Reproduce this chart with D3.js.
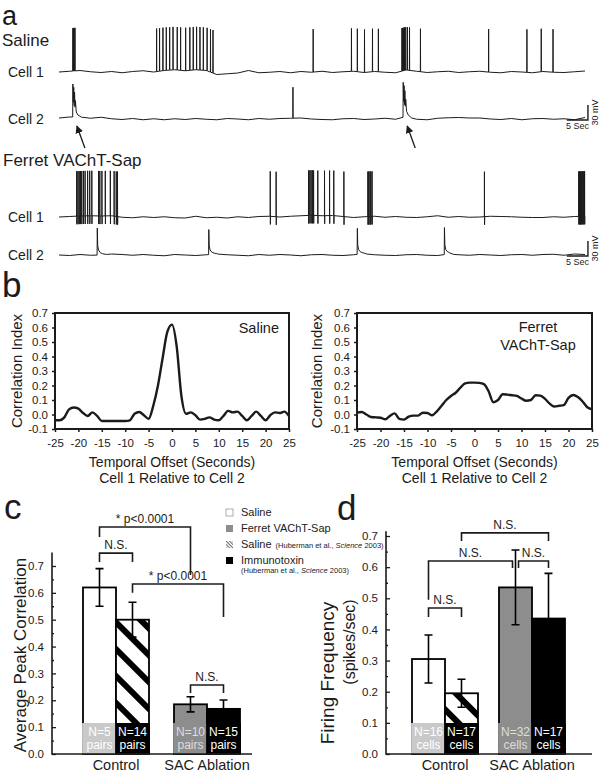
<!DOCTYPE html>
<html>
<head>
<meta charset="utf-8">
<script src="https://cdn.jsdelivr.net/npm/d3@7"></script>
<style>
  body { margin: 0; background: #fff; }
  svg { display: block; font-family: "Liberation Sans", Arial, Helvetica, sans-serif; }
</style>
</head>
<body>
<svg id="fig" width="600" height="776"></svg>
<script>
// ---------- panel a: paired recordings (time in s, voltage in mV above rest)
const traceStep = 2.5; // baseline samples every 2.5 s, 0..125 s

const salineCell1Base = [0, 1.5, 3, 0.5, -1, 1, -1.5, 1, 2.5, 0, 3, 4.5, 2.5, 4.5, 3, -5, -3.5, -2, 3, -1.5,
  -0.5, 1, -1.5, 1, -0.5, 1.5, -1, 0.5, 1.5, -1, 1, -0.5, -1.5, 4, 1.5, -1, 0.5, 1.5, -1, 0.5,
  1.5, -0.5, -1.5, 1, 0, -1.5, 1, -0.5, -1, 0.5, 2];
const salineCell1Spikes = [3.3, 3.45, 3.6, 3.8,
  23.2, 23.9, 24.7, 25.5, 26.3, 27.1, 28.1, 28.9, 30.1, 31.1, 31.9, 32.7, 33.5, 34.3, 35.2, 36.0, 36.6,
  60.4, 69.5, 70.9, 72.6, 74.5, 75.9,
  81.5, 81.7, 81.9, 82.1, 82.4, 82.8, 83.3, 85.9,
  102.1, 111.2, 114.6, 117.4];
const salineCell1Amp = 86;

const salineCell2Base = [2, 4, 4, 1.5, 3.5, 0.5, -1, 1, -1.5, 0.5, -1.5, 0.5, -1, 1, -0.5, -1.5, 1, 0, -1.5, 1,
  -0.5, 1, 1.5, 2, 0, -1, -1.5, 0.5, 1, -1, 0, 1.5, -0.5, 5, -0.5, -1.5, 1.5, 2.5, 3, 2,
  2, 0, -1, 1, -1.5, 0.5, 1, -0.5, 0.5, -1.5, 3];
const salineCell2Events = [3.3, 55.6, 81.8];
const salineCell2Amps = [66, 62, 70];
const salineCell2Kinds = ['burst', 'spike', 'burst'];

const ferretCell1Base = [0, 1, 2, 2.5, 2, 2.5, -0.5, -1.5, 0.5, -1, 0.5, -1.5, -2, 1.5, -1.5, -0.5, -2, 0.5, -1, 1,
  1.5, 0, 1.5, 2.5, 3.5, 2.5, 3, 1, -1, 0.5, 1.5, -0.5, 1, -0.5, -1, 0.5, 2.5, -0.5, 1, -0.5,
  0, 1.5, 1, 0.5, -0.5, -1, -1, 0.5, -0.5, 1, 1.5];
const ferretCell1Spikes = [4.2, 4.5, 4.8, 5.1, 5.4, 5.8, 6.2, 6.8, 7.3, 7.8,
  9.4, 9.7, 10.2, 11.0, 12.2, 13.1, 13.6, 13.9,
  50.2, 51.6,
  59.3, 59.6, 59.9, 60.2, 60.5, 61.5, 63.1, 64.3, 65.3, 67.7,
  73.4, 73.6, 73.9, 74.1, 74.4,
  101.1,
  123.5, 123.7, 123.9, 124.1, 124.3, 124.5, 124.7, 124.9];
const ferretCell1Amp = 90;

const ferretCell2Base = [0, -1, 1, -0.5, 0, 2, 1, -0.5, 1, -0.5, -1.5, 1, 0, -1, 0.5, 2, 0.5, -0.5, -1.5, 1,
  -0.5, 1, 0, -1.5, 0.5, 1, -0.5, -1, 0.5, 2.5, 0.5, -0.5, -1, 0.5, 1, -0.5, -1, 2, 0.5, -0.5,
  1, 0, -1, 0.5, 1, -0.5, 1, 1.5, -0.5, 2, 1];
const ferretCell2Events = [9.1, 35.6, 70.9, 91.6];
const ferretCell2Amps = [54, 50, 52, 54];

// ---------- panel b: cross-correlation vs temporal offset
const lagSeconds = [-25, -24, -23, -22, -21, -20, -19, -18, -17, -16, -15, -14, -13, -12, -11, -10, -9, -8, -7, -6,
  -5, -4, -3, -2, -1, 0, 1, 2, 3, 4, 5, 6, 7, 8, 9, 10, 11, 12, 13, 14,
  15, 16, 17, 18, 19, 20, 21, 22, 23, 24, 25];
const salineCorr = [-0.04, -0.04, -0.02, 0.035, 0.048, 0.04, 0.01, -0.01, 0.015, -0.01, -0.045, -0.045, -0.045, -0.045, -0.045, -0.045, -0.04, 0.005, 0.017, -0.005,
  -0.03, 0.06, 0.2, 0.39, 0.57, 0.62, 0.47, 0.13, 0.005, 0.015, -0.005, -0.035, -0.03, -0.02, -0.035, -0.04, -0.01, 0.025, 0.015, 0.02,
  -0.01, -0.04, -0.01, 0.02, -0.01, -0.04, -0.005, 0.015, 0.01, 0.02, -0.01];
const ferretCorr = [0.013, 0.017, 0.0, -0.017, -0.02, -0.022, -0.033, -0.01, 0.008, -0.03, -0.035, -0.015, -0.008, -0.008, 0.012, 0.01, -0.005, 0.022, 0.06, 0.1,
  0.128, 0.15, 0.185, 0.215, 0.22, 0.22, 0.218, 0.21, 0.16, 0.085, 0.1, 0.14, 0.137, 0.133, 0.128, 0.11, 0.095, 0.1, 0.133, 0.13,
  0.108, 0.075, 0.055, 0.06, 0.065, 0.115, 0.135, 0.12, 0.09, 0.05, 0.036];
const corrTicksY = [-0.1, 0, 0.1, 0.2, 0.3, 0.4, 0.5, 0.6, 0.7];
const corrTicksX = [-25, -20, -15, -10, -5, 0, 5, 10, 15, 20, 25];

// ---------- panels c, d: bar charts (bar order: Saline, Saline 2003, Ferret VAChT-Sap, Immunotoxin)
const groups = ['Control', 'SAC Ablation'];
const barGroup = [0, 0, 1, 1];
const peakCorrMean = [0.62, 0.50, 0.185, 0.168];
const peakCorrErr = [0.07, 0.065, 0.028, 0.033];
const peakCorrN = ['N=5', 'N=14', 'N=10', 'N=15'];
const firingMean = [0.305, 0.195, 0.535, 0.435];
const firingErr = [0.077, 0.045, 0.12, 0.145];
const firingN = ['N=16', 'N=17', 'N=32', 'N=17'];
const barTicks = [0, 0.1, 0.2, 0.3, 0.4, 0.5, 0.6, 0.7];
const barMinorTicks = [0.05, 0.15, 0.25, 0.35, 0.45, 0.55, 0.65];
const legendLabels = ['Saline', 'Ferret VAChT-Sap', 'Saline', 'Immunotoxin'];
const legendNotes = ['', '', '(Huberman et al., |Science| 2003)', '(Huberman et al., |Science| 2003)'];
const legendBar = [0, 2, 1, 3];

// significance brackets: bars joined, level of the bar, leg ends (data units)
const corrBrackets = [
  { from: 0, to: 2, level: 0.845, legs: [0.808, 0.666], label: '* p<0.0001' },
  { from: 0, to: 1, level: 0.748, legs: [0.715, 0.715], label: 'N.S.' },
  { from: 1, to: 3, level: 0.633, legs: [0.6, 0.51], label: '* p<0.0001' },
  { from: 2, to: 3, level: 0.257, legs: [0.227, 0.227], label: 'N.S.' }
];
const rateBrackets = [
  { from: 1, to: 3, level: 0.71, legs: [0.684, 0.684], label: 'N.S.' },
  { from: 0, to: 2, level: 0.62, legs: [0.495, 0.597], label: 'N.S.', trim: [0, -3] },
  { from: 2, to: 3, level: 0.62, legs: [0.597, 0.597], label: 'N.S.', trim: [3, 0] },
  { from: 0, to: 1, level: 0.469, legs: [0.44, 0.44], label: 'N.S.' }
];

const ink = '#1b1b1b';
const gray = '#8d8d8d';
const svg = d3.select('#fig');

// patterns and arrow head
const defs = svg.append('defs');
defs.append('pattern').attr('id', 'hatchBig')
    .attr('patternUnits', 'userSpaceOnUse')
    .attr('width', 19).attr('height', 19)
    .attr('patternTransform', 'rotate(-45)')
    .call(p => {
        p.append('rect').attr('width', 19).attr('height', 19).attr('fill', '#fff');
        p.append('rect').attr('width', 6).attr('height', 19).attr('fill', '#000');
    });
defs.append('pattern').attr('id', 'hatchSmall')
    .attr('patternUnits', 'userSpaceOnUse')
    .attr('width', 2.4).attr('height', 2.4)
    .attr('patternTransform', 'rotate(-45)')
    .call(p => {
        p.append('rect').attr('width', 2.4).attr('height', 2.4).attr('fill', '#fff');
        p.append('rect').attr('width', 1).attr('height', 2.4).attr('fill', '#666');
    });
defs.append('marker').attr('id', 'arrowHead')
    .attr('viewBox', '0 0 10 10').attr('refX', 9).attr('refY', 5)
    .attr('markerWidth', 6).attr('markerHeight', 6).attr('orient', 'auto')
    .append('path').attr('d', 'M0,0 L10,5 L0,10 z').attr('fill', ink);

function label(x, y, txt, size, opts = {}) {
    return svg.append('text')
        .attr('x', x).attr('y', y)
        .attr('font-size', size)
        .attr('fill', opts.fill || ink)
        .attr('text-anchor', opts.anchor || 'start')
        .attr('transform', opts.rotate ? `rotate(-90,${x},${y})` : null)
        .text(txt);
}

// ================= panel a =================
const eventShapes = {
    spike: { dt: [-0.03, 0, 0.03], k: [0, 1, 0] },
    biphasic: { dt: [-0.02, 0, 0.03, 0.06], k: [0, 1, -0.18, 0] },
    burst: { dt: [-0.05, 0, 0.1, 0.2, 0.3, 0.4, 0.5, 0.6, 0.8, 1.2, 2],
             k: [0, 1, 0.45, 0.9, 0.35, 0.75, 0.3, 0.5, 0.15, 0.06, 0] },
    decay: { dt: [-0.05, 0, 0.1, 0.3, 0.7, 1.3, 2.2], k: [0, 1, 0.35, 0.18, 0.09, 0.04, 0] }
};

function buildTrace(baseVals, events) {
    const baseTimes = baseVals.map((d, i) => i * traceStep);
    const tEnd = baseTimes[baseTimes.length - 1];
    const baseAt = d3.scaleLinear().domain(baseTimes).range(baseVals).clamp(true);
    const parts = events.map(e => {
        const s = eventShapes[e.kind];
        return {
            lo: e.t + s.dt[0], hi: e.t + s.dt[s.dt.length - 1],
            f: d3.scaleLinear().domain(s.dt.map(d => d + e.t)).range(s.k.map(k => k * e.amp))
        };
    });
    let times = baseTimes.slice();
    events.forEach(e => eventShapes[e.kind].dt.forEach(d => times.push(e.t + d)));
    times = times.filter(t => t >= 0 && t <= tEnd).sort((a, b) => a - b);
    return times.map(t => [t, baseAt(t) + d3.sum(parts, p => (t >= p.lo && t <= p.hi) ? p.f(t) : 0)]);
}

const tx = d3.scaleLinear().domain([0, 125]).range([59, 585]);
const traces = [
    { name: 'Cell 1', y0: 72, base: salineCell1Base,
      events: salineCell1Spikes.map(t => ({ t, amp: salineCell1Amp, kind: 'spike' })) },
    { name: 'Cell 2', y0: 119, base: salineCell2Base,
      events: salineCell2Events.map((t, i) => ({ t, amp: salineCell2Amps[i], kind: salineCell2Kinds[i] })) },
    { name: 'Cell 1', y0: 217, base: ferretCell1Base,
      events: ferretCell1Spikes.map(t => ({ t, amp: ferretCell1Amp, kind: 'biphasic' })) },
    { name: 'Cell 2', y0: 255, base: ferretCell2Base,
      events: ferretCell2Events.map((t, i) => ({ t, amp: ferretCell2Amps[i], kind: 'decay' })) }
];

label(2, 24.5, 'a', 27);
label(2, 46, 'Saline', 17);
label(3, 166, 'Ferret VAChT-Sap', 17);

traces.forEach(tr => {
    tr.y = d3.scaleLinear().domain([0, 100]).range([tr.y0, tr.y0 - 50]);
    const line = d3.line().x(d => tx(d[0])).y(d => tr.y(d[1]));
    svg.append('path')
        .datum(buildTrace(tr.base, tr.events))
        .attr('d', line)
        .attr('fill', 'none')
        .attr('stroke', ink)
        .attr('stroke-width', 1)
        .attr('stroke-linejoin', 'round');
    label(8, tr.y0 + 5, tr.name, 14);
});

// scale bars (30 mV, 5 s) next to each Cell 2 trace
[traces[1], traces[3]].forEach(tr => {
    const xr = tx(125.7), xl = tx(120.7), yb = tr.y0 + 1;
    const yt = yb - (tr.y(0) - tr.y(30));
    svg.append('path')
        .attr('d', `M${xl},${yb}H${xr}V${yt}`)
        .attr('fill', 'none').attr('stroke', ink).attr('stroke-width', 1.4);
    label((xl + xr) / 2, yb + 9, '5 Sec', 9, { anchor: 'middle' });
    label(598, (yb + yt) / 2, '30 mV', 9, { anchor: 'middle', rotate: true });
});

// arrows under the coincident Cell 2 events
[salineCell2Events[0], salineCell2Events[2]].forEach(t => {
    const x = tx(t);
    svg.append('line')
        .attr('x1', x + 12).attr('y1', 148)
        .attr('x2', x + 4).attr('y2', 126)
        .attr('stroke', ink).attr('stroke-width', 1.3)
        .attr('marker-end', 'url(#arrowHead)');
});

// ================= panel b =================
label(2, 297, 'b', 35);

function corrPanel(x0, x1, values, ylabX, tag) {
    const x = d3.scaleLinear().domain([-25, 25]).range([x0, x1]);
    const y = d3.scaleLinear().domain([-0.1, 0.7]).range([429, 313]);
    const g = svg.append('g');

    g.append('path')
        .datum(lagSeconds.map((t, i) => [t, values[i]]))
        .attr('d', d3.line().x(d => x(d[0])).y(d => y(d[1])).curve(d3.curveMonotoneX))
        .attr('fill', 'none').attr('stroke', ink).attr('stroke-width', 2.4);

    g.append('rect')
        .attr('x', x0).attr('y', y(0.7))
        .attr('width', x1 - x0).attr('height', y(-0.1) - y(0.7))
        .attr('fill', 'none').attr('stroke', ink).attr('stroke-width', 2);

    const yAxis = g.append('g')
        .attr('transform', `translate(${x0},0)`)
        .call(d3.axisLeft(y).tickValues(corrTicksY).tickFormat(d => d.toFixed(1)).tickSize(3).tickPadding(4));
    const xAxis = g.append('g')
        .attr('transform', `translate(0,${y(-0.1)})`)
        .call(d3.axisBottom(x).tickValues(corrTicksX).tickFormat(d => String(d)).tickSize(3).tickPadding(7));
    [yAxis, xAxis].forEach(a => {
        a.select('.domain').remove();
        a.selectAll('line').attr('stroke', ink).attr('stroke-width', 1.5);
        a.selectAll('text').attr('font-size', 11.5).attr('fill', ink)
            .attr('font-family', '"Liberation Sans", Arial, sans-serif');
    });

    label(ylabX, (y(0.7) + y(-0.1)) / 2, 'Correlation Index', 15, { anchor: 'middle', rotate: true });
    const cx = (x0 + x1) / 2;
    label(cx, 467, 'Temporal Offset (Seconds)', 14, { anchor: 'middle' });
    label(cx, 483, 'Cell 1 Relative to Cell 2', 14, { anchor: 'middle' });
    tag(x, y);
}

corrPanel(55, 289, salineCorr, 22, x => {
    label(x.range()[1] - 10, 333, 'Saline', 14.5, { anchor: 'end' });
});
corrPanel(357, 592, ferretCorr, 322, () => {
    label(538, 332, 'Ferret', 14.5, { anchor: 'middle' });
    label(538, 350, 'VAChT-Sap', 14.5, { anchor: 'middle' });
});

// ================= panels c, d =================
const barFill = ['#fff', 'url(#hatchBig)', gray, '#000'];
const blockFill = ['#c9c9c9', '#000', gray, '#000'];
const blockText = ['#fff', '#fff', '#dedede', '#fff'];

function barPanel(cfg) {
    const y = d3.scaleLinear().domain([0, cfg.top]).range([754, 754 - cfg.top * cfg.perUnit]);
    const xg = d3.scaleBand().domain(groups).range(cfg.groupRange).padding(0);
    const xi = d3.scaleBand().domain([0, 1]).range([-33, 33]).padding(0);
    const barX = i => xg(groups[barGroup[i]]) + xg.bandwidth() / 2 + xi(i % 2);
    const barC = i => barX(i) + xi.bandwidth() / 2;
    const g = svg.append('g');

    // bars
    g.selectAll('rect.bar').data(cfg.means).join('rect')
        .attr('class', 'bar')
        .attr('x', (d, i) => barX(i)).attr('width', xi.bandwidth())
        .attr('y', d => y(d)).attr('height', d => y(0) - y(d))
        .attr('fill', (d, i) => barFill[i])
        .attr('stroke', '#000').attr('stroke-width', 1.8);

    // N blocks at the foot of each bar
    const blockH = 31;
    g.selectAll('rect.block').data(cfg.means).join('rect')
        .attr('class', 'block')
        .attr('x', (d, i) => barX(i) - 0.9).attr('width', xi.bandwidth() + 1.8)
        .attr('y', y(0) - blockH).attr('height', blockH)
        .attr('fill', (d, i) => blockFill[i]);
    cfg.ns.forEach((n, i) => {
        label(barC(i), y(0) - 18, n, 12, { anchor: 'middle', fill: blockText[i] });
        label(barC(i), y(0) - 5, cfg.unit, 12, { anchor: 'middle', fill: blockText[i] });
    });

    // error bars
    cfg.means.forEach((m, i) => {
        const c = barC(i), e = cfg.errs[i];
        g.append('path')
            .attr('d', `M${c},${y(m - e)}V${y(m + e)}M${c - 4},${y(m + e)}H${c + 4}M${c - 4},${y(m - e)}H${c + 4}`)
            .attr('fill', 'none').attr('stroke', '#000').attr('stroke-width', 1.6);
    });

    // axes
    const yAxis = g.append('g').attr('transform', `translate(${cfg.axisX},0)`)
        .call(d3.axisLeft(y).tickValues(barTicks).tickFormat(d => d.toFixed(1)).tickSize(-4).tickPadding(8));
    const yMinor = g.append('g').attr('transform', `translate(${cfg.axisX},0)`)
        .call(d3.axisLeft(y).tickValues(barMinorTicks).tickFormat('').tickSize(-2));
    [yAxis, yMinor].forEach(a => {
        a.select('.domain').remove();
        a.selectAll('line').attr('stroke', ink).attr('stroke-width', 1.3);
        a.selectAll('text').attr('font-size', 11.5).attr('fill', ink)
            .attr('font-family', '"Liberation Sans", Arial, sans-serif');
    });
    g.append('path')
        .attr('d', `M${cfg.axisX},${y(cfg.top)}V${y(0)}H${cfg.axisEnd}`)
        .attr('fill', 'none').attr('stroke', ink).attr('stroke-width', 1.6);

    groups.forEach(name => {
        label(xg(name) + xg.bandwidth() / 2, 770, name, 14.5, { anchor: 'middle' });
    });

    // brackets
    cfg.brackets.forEach(b => {
        const trim = b.trim || [0, 0];
        const xa = barC(b.from) + trim[0], xb = barC(b.to) + trim[1];
        g.append('path')
            .attr('d', `M${xa},${y(b.legs[0])}V${y(b.level)}H${xb}V${y(b.legs[1])}`)
            .attr('fill', 'none').attr('stroke', ink).attr('stroke-width', 1.6);
        label((xa + xb) / 2, y(b.level) - 4, b.label, 12, { anchor: 'middle' });
    });

    cfg.ylab.forEach(l => label(l.x, l.y, l.text, l.size, { anchor: 'middle', rotate: true }));
}

label(4, 519, 'c', 35);
barPanel({
    top: 0.75, perUnit: 268.6, groupRange: [70.5, 252.5], axisX: 52, axisEnd: 252,
    means: peakCorrMean, errs: peakCorrErr, ns: peakCorrN, unit: 'pairs',
    brackets: corrBrackets,
    ylab: [{ x: 26, y: 655, text: 'Average Peak Correlation', size: 17 }]
});

label(337, 520, 'd', 35);
barPanel({
    top: 0.715, perUnit: 311.4, groupRange: [401.5, 575.5], axisX: 386, axisEnd: 592,
    means: firingMean, errs: firingErr, ns: firingN, unit: 'cells',
    brackets: rateBrackets,
    ylab: [{ x: 334, y: 673, text: 'Firing Frequency', size: 19 },
           { x: 355, y: 642, text: '(spikes/sec)', size: 16 }]
});

// legend
const legend = svg.append('g');
legendLabels.forEach((txt, r) => {
    const yy = 516 + r * 16;
    const bi = legendBar[r];
    legend.append('rect')
        .attr('x', 226).attr('y', yy - 7).attr('width', 7).attr('height', 7)
        .attr('fill', bi === 1 ? 'url(#hatchSmall)' : barFill[bi])
        .attr('stroke', bi === 0 ? '#999' : 'none').attr('stroke-width', 0.8);
    const t = legend.append('text').attr('x', 241).attr('y', yy)
        .attr('font-size', 11).attr('fill', ink).text(txt);
    const note = legendNotes[r];
    if (!note) return;
    const bits = note.split('|');
    const holder = r === 2 ? t : legend.append('text').attr('x', 241).attr('y', yy + 9).attr('fill', ink);
    bits.forEach((s, k) => {
        holder.append('tspan')
            .attr('dx', r === 2 && k === 0 ? 4 : null)
            .attr('font-size', 7.5)
            .attr('font-style', k === 1 ? 'italic' : null)
            .text(s);
    });
});
</script>
</body>
</html>
